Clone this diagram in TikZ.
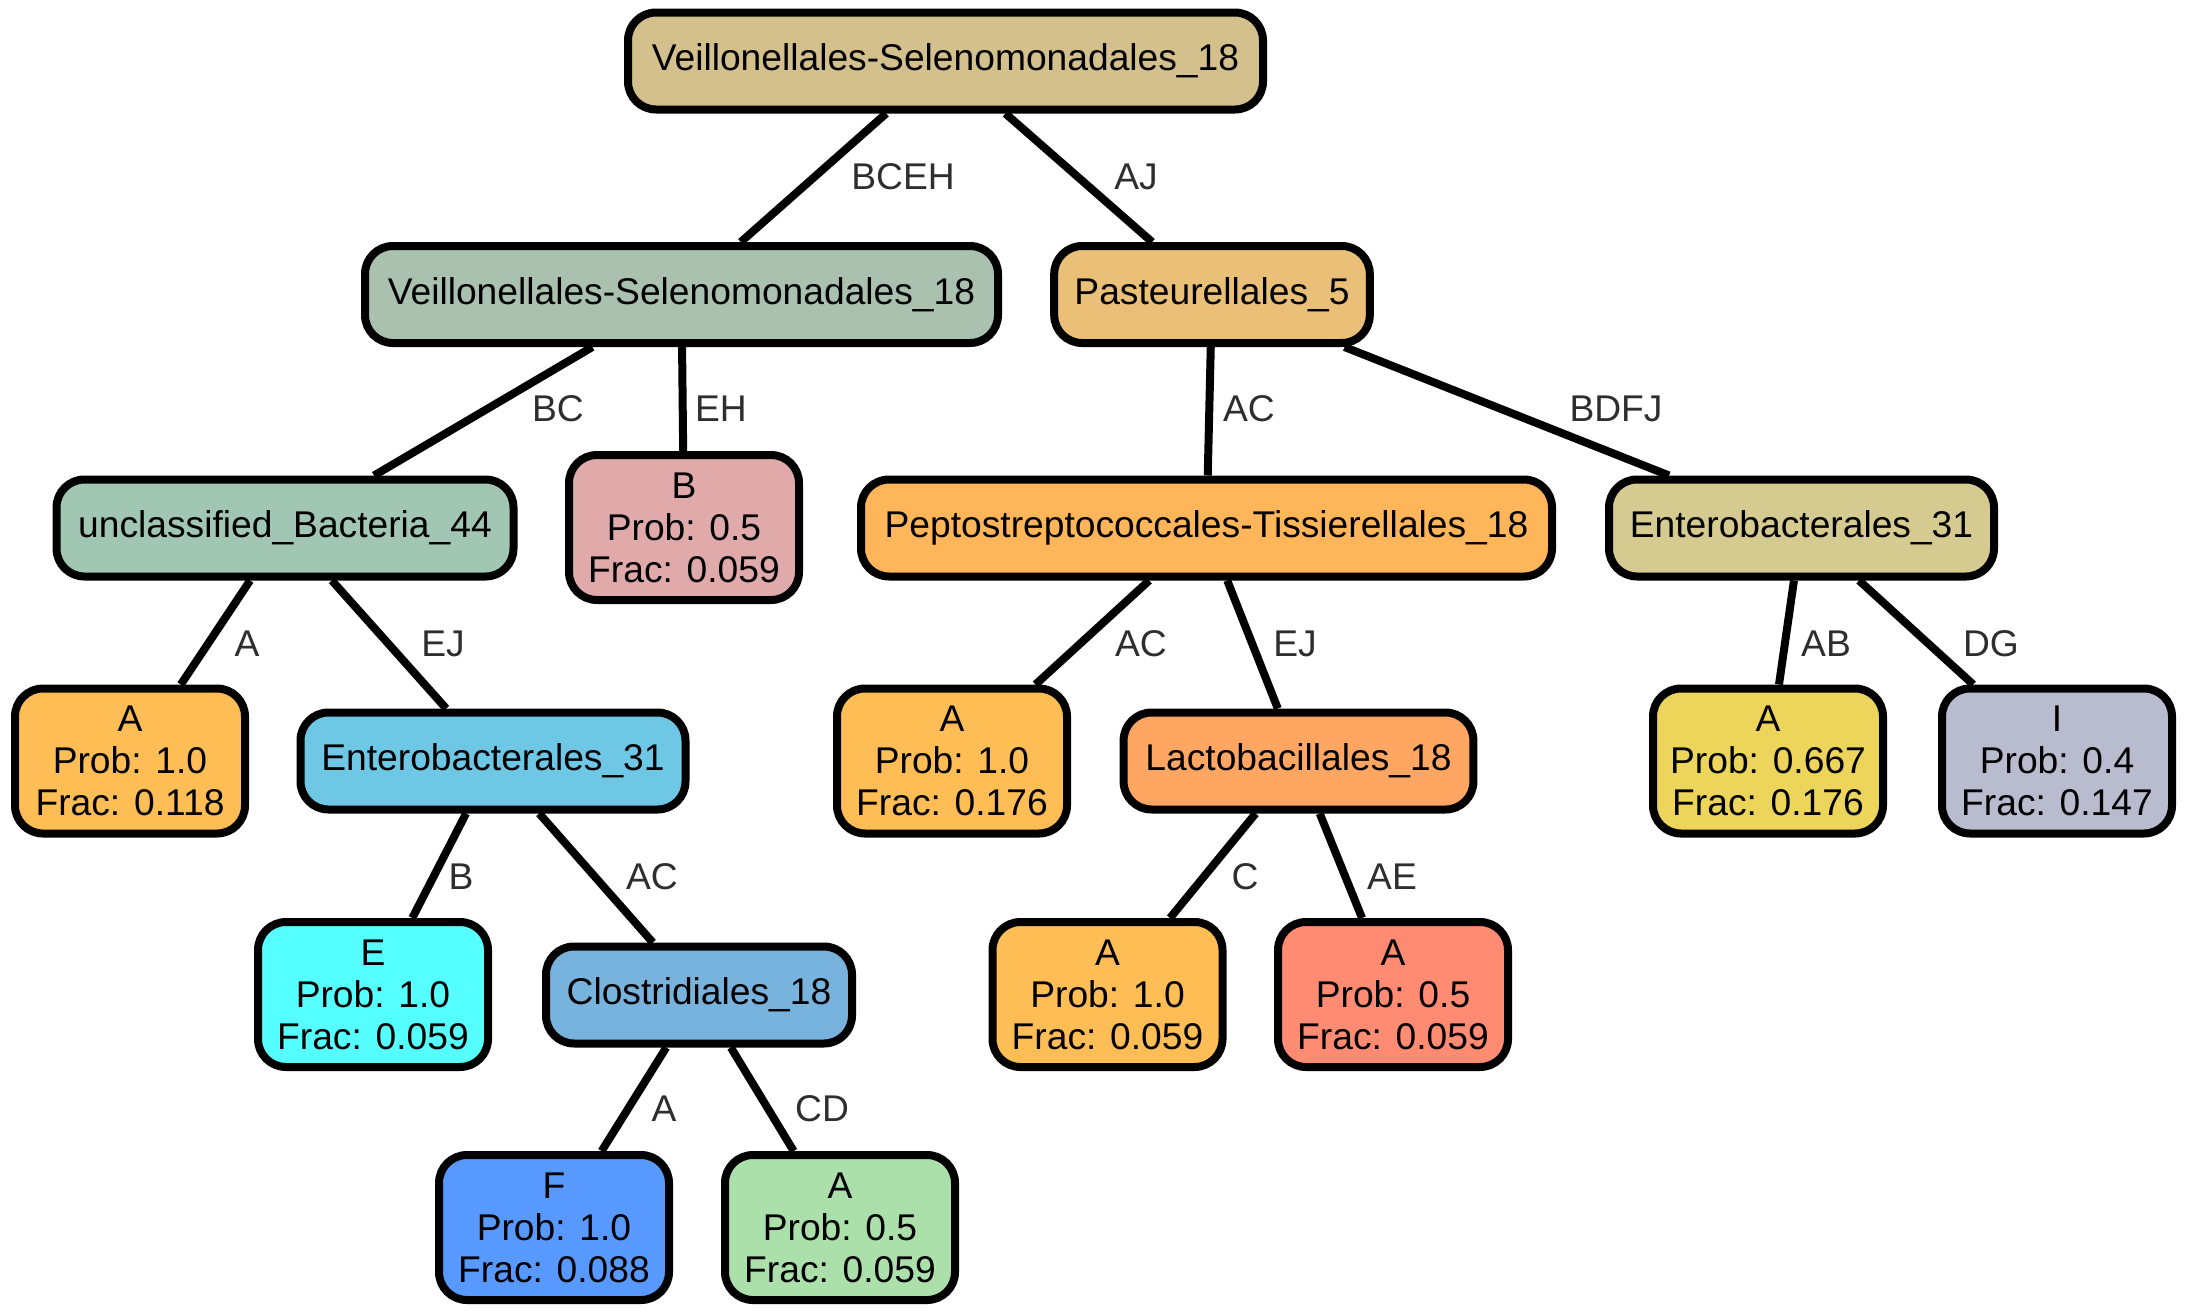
\documentclass[tikz,border=0pt]{standalone}
\usepackage{fontspec}
\setmainfont{Liberation Sans}
\begin{document}
\begin{tikzpicture}[x=0.5pt,y=-0.5pt,
  box/.style={draw=black, line width=4pt, rounded corners=14pt, inner sep=0pt,
    align=center, font=\fontsize{18.6pt}{21pt}\selectfont, minimum height=48.5pt},
  leaf/.style={box, minimum width=115pt, minimum height=72.5pt},
  edge/.style={line width=4pt, black},
  lab/.style={anchor=base, inner sep=0pt, text=black!82, font=\fontsize{18.6pt}{21pt}\selectfont}]
\useasboundingbox (0,0) rectangle (2186,1313);
\fill[white] (0,0) rectangle (2186,1313);
\definecolor{cRoot}{HTML}{D3C08D}
\definecolor{cVeil}{HTML}{AAC1B0}
\definecolor{cPast}{HTML}{EAC078}
\definecolor{cUncl}{HTML}{A1C6B3}
\definecolor{cBleaf}{HTML}{E0AAAA}
\definecolor{cPepto}{HTML}{FFB55A}
\definecolor{cEntR}{HTML}{D5CA90}
\definecolor{cA}{HTML}{FFBE55}
\definecolor{cEntL}{HTML}{6EC8E5}
\definecolor{cAy}{HTML}{ECD55A}
\definecolor{cI}{HTML}{B9BBCF}
\definecolor{cE}{HTML}{55FFFF}
\definecolor{cClos}{HTML}{78B3DE}
\definecolor{cLacto}{HTML}{FFA662}
\definecolor{cAred}{HTML}{FF8B73}
\definecolor{cF}{HTML}{5799FF}
\definecolor{cAg}{HTML}{ABE0AA}

\node[box, fill=cRoot, minimum width=317.5pt] (root) at (945.5,61) {Veillonellales-Selenomonadales\_18};
\node[box, fill=cVeil, minimum width=316.5pt] (veil) at (681.5,294.5) {Veillonellales-Selenomonadales\_18};
\node[box, fill=cPast, minimum width=157.8pt] (past) at (1212,294.5) {Pasteurellales\_5};
\node[box, fill=cUncl, minimum width=228.5pt] (uncl) at (285,528) {unclassified\_Bacteria\_44};
\node[leaf, fill=cBleaf] (bleaf) at (684,527.5) {B\\Prob: 0.5\\Frac: 0.059};
\node[box, fill=cPepto, minimum width=345.5pt] (pepto) at (1206.5,528) {Peptostreptococcales-Tissierellales\_18};
\node[box, fill=cEntR, minimum width=192.5pt] (entR) at (1801.5,528) {Enterobacterales\_31};
\node[leaf, fill=cA] (a1) at (130,761) {A\\Prob: 1.0\\Frac: 0.118};
\node[box, fill=cEntL, minimum width=192.5pt] (entL) at (493,761) {Enterobacterales\_31};
\node[leaf, fill=cA] (a2) at (952,761) {A\\Prob: 1.0\\Frac: 0.176};
\node[box, fill=cLacto, minimum width=174.9pt] (lacto) at (1298.5,761) {Lactobacillales\_18};
\node[leaf, fill=cAy] (ay) at (1768,761) {A\\Prob: 0.667\\Frac: 0.176};
\node[leaf, fill=cI] (inode) at (2057,761) {I\\Prob: 0.4\\Frac: 0.147};
\node[leaf, fill=cE] (e) at (373,994.5) {E\\Prob: 1.0\\Frac: 0.059};
\node[box, fill=cClos, minimum width=153pt] (clos) at (699,995) {Clostridiales\_18};
\node[leaf, fill=cA] (a3) at (1107.5,994.5) {A\\Prob: 1.0\\Frac: 0.059};
\node[leaf, fill=cAred] (ared) at (1393,994.5) {A\\Prob: 0.5\\Frac: 0.059};
\node[leaf, fill=cF] (f) at (554,1227.5) {F\\Prob: 1.0\\Frac: 0.088};
\node[leaf, fill=cAg] (ag) at (840,1227.5) {A\\Prob: 0.5\\Frac: 0.059};

\draw[edge] (root) -- (veil) node[lab] at (903,189) {BCEH};
\draw[edge] (root) -- (past) node[lab] at (1136,189) {AJ};
\draw[edge] (veil) -- (uncl) node[lab] at (558,421) {BC};
\draw[edge] (veil) -- (bleaf) node[lab] at (721,421) {EH};
\draw[edge] (past) -- (pepto) node[lab] at (1249,421) {AC};
\draw[edge] (past) -- (entR) node[lab] at (1616,421) {BDFJ};
\draw[edge] (uncl) -- (a1) node[lab] at (247,656) {A};
\draw[edge] (uncl) -- (entL) node[lab] at (443,656) {EJ};
\draw[edge] (pepto) -- (a2) node[lab] at (1141,656) {AC};
\draw[edge] (pepto) -- (lacto) node[lab] at (1295,656) {EJ};
\draw[edge] (entR) -- (ay) node[lab] at (1826,656) {AB};
\draw[edge] (entR) -- (inode) node[lab] at (1991,656) {DG};
\draw[edge] (entL) -- (e) node[lab] at (461,889) {B};
\draw[edge] (entL) -- (clos) node[lab] at (652,889) {AC};
\draw[edge] (lacto) -- (a3) node[lab] at (1245,889) {C};
\draw[edge] (lacto) -- (ared) node[lab] at (1392,889) {AE};
\draw[edge] (clos) -- (f) node[lab] at (664,1121) {A};
\draw[edge] (clos) -- (ag) node[lab] at (822,1121) {CD};
\end{tikzpicture}
\end{document}
